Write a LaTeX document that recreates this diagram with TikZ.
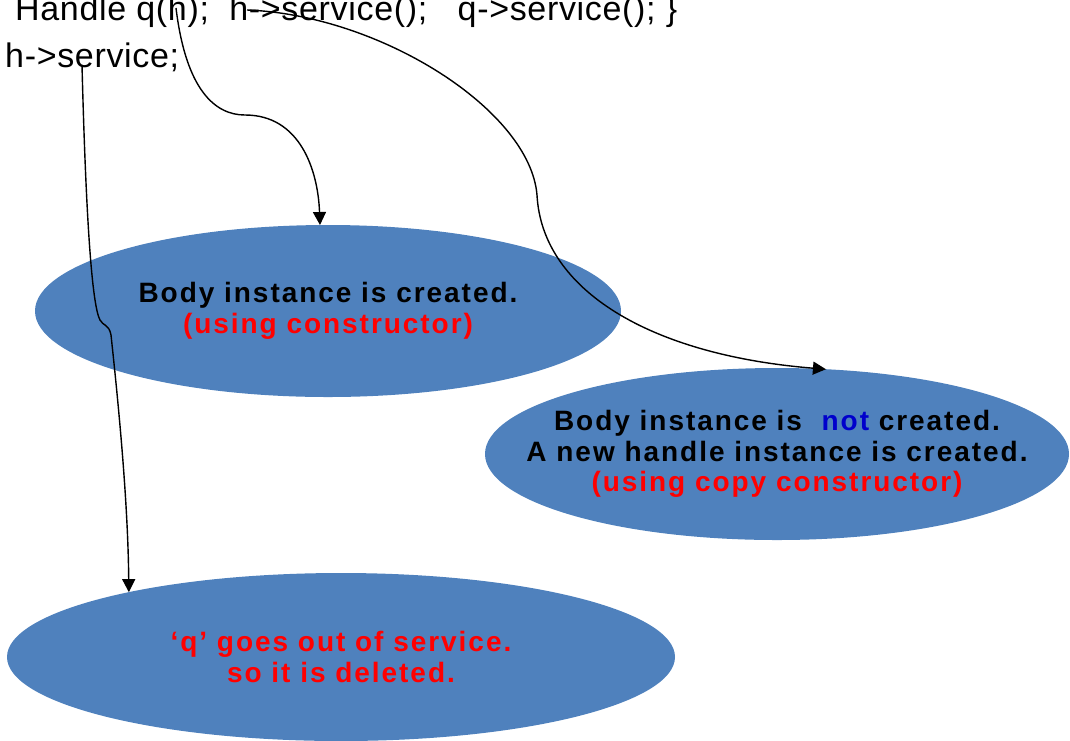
\documentclass[tikz,border=0pt]{standalone}
\usepackage{fontspec}
\setmainfont{Liberation Sans}
\newfontfamily\codefont[LetterSpace=2]{Liberation Sans}
\newfontfamily\notefont[LetterSpace=7]{Liberation Sans}
\usetikzlibrary{shapes.geometric,arrows.meta}
\definecolor{bodyblue}{HTML}{4F81BD}
\definecolor{notered}{HTML}{FF0000}
\definecolor{noteblue}{HTML}{0000CC}
\begin{document}
\begin{tikzpicture}[x=1pt,y=-1pt,
  bubble/.style={ellipse,fill=bodyblue,inner sep=0pt,outer sep=0pt},
  bubbletext/.style={align=center,inner sep=0pt,
    font=\notefont\bfseries\fontsize{28}{30.5}\selectfont},
  codeline/.style={anchor=base west,inner sep=0pt,
    font=\codefont\fontsize{34}{40}\selectfont},
  link/.style={line width=1.4pt,-{Triangle[length=13pt,width=13pt]}}]
\useasboundingbox (0,0) rectangle (1070,740);
\clip (0,0) rectangle (1070,740);

% source code
\node[codeline] (code1) at (15,20) {Handle q(h);\ \ h->service();\ \ \ q->service(); \}};
\node[codeline] (code2) at (5,67) {h->service;};

% where the connectors leave the code
\coordinate (fromQ) at (176,8);
\coordinate (fromH) at (247,10);
\coordinate (fromS) at (82,65);

% result bubbles
\node[bubble,minimum width=586,minimum height=172] (e1) at (328,311) {};
\node[bubble,minimum width=584,minimum height=172] (e2) at (777,454) {};
\node[bubble,minimum width=668,minimum height=168] (e3) at (341,657) {};

\node[bubbletext] (t1) at (e1.center) {Body instance is created.\\
  \textcolor{notered}{(using constructor)}};
\node[bubbletext] (t2) at (e2.center) {Body instance is\hspace{0.35em} \textcolor{noteblue}{not} created.\\
  A new handle instance is created.\\
  \textcolor{notered}{(using copy constructor)}};
\node[bubbletext,text=notered] (t3) at (e3.center) {‘q’ goes out of service.\\
  so it is deleted.};

% connectors
\draw[link] (fromQ) .. controls (186,90) and (215,115) .. (245,115)
  .. controls (300,115) and (318,170) .. ([xshift=-8pt]e1.north);
\draw[link] (fromH) .. controls (380,15) and (530,110) .. (537,195)
  .. controls (542,290) and (650,355) .. (e2.60);
\draw[link] (fromS) .. controls (86,220) and (92,305) .. (100,320)
  .. controls (103,326) and (109,324) .. (111,335)
  .. controls (118,400) and (128,500) .. (e3.163);
\end{tikzpicture}
\end{document}
